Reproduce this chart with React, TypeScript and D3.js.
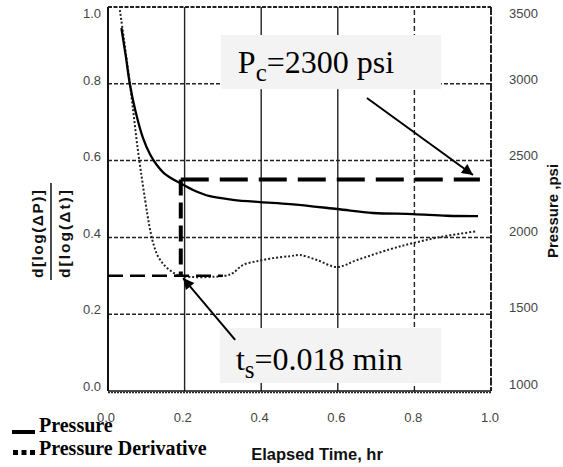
import React from 'react';
import * as d3 from 'd3';

// ---------- data ----------
const X_TICKS = [0, 0.2, 0.4, 0.6, 0.8, 1.0];
const LEFT_TICKS = [0, 0.2, 0.4, 0.6, 0.8, 1.0];
const RIGHT_TICKS = [1000, 1500, 2000, 2500, 3000, 3500];
const SOLID_GRID_X = [0.2, 0.4, 0.6];
const DASHED_GRID_X = [0.8];
const GRID_Y = [0.2, 0.4, 0.6, 0.8];

// Pressure curve (elapsed time hr, psi on right axis)
const PRESSURE_T = [0.035, 0.047, 0.057, 0.072, 0.091, 0.110, 0.128, 0.150, 0.188, 0.222, 0.266, 0.326, 0.397, 0.475, 0.598, 0.692, 0.796, 0.885, 0.966];
const PRESSURE_PSI = [3363, 3170, 2999, 2820, 2650, 2540, 2470, 2410, 2354, 2309, 2268, 2245, 2230, 2217, 2185, 2159, 2152, 2141, 2139];

// Pressure derivative curve (left axis)
const DERIV_T = [0.031, 0.057, 0.078, 0.097, 0.108, 0.118, 0.130, 0.145, 0.165, 0.188, 0.305, 0.326, 0.352, 0.389, 0.431, 0.475, 0.501, 0.546, 0.598, 0.650, 0.736, 0.796, 0.867, 0.963];
const DERIV_V = [0.992, 0.802, 0.628, 0.497, 0.430, 0.385, 0.352, 0.330, 0.312, 0.300, 0.300, 0.307, 0.328, 0.338, 0.346, 0.351, 0.354, 0.341, 0.323, 0.341, 0.369, 0.385, 0.401, 0.416];

// Annotation guide lines
const PC_LEVEL = 0.551;
const PC_LINE_END = 0.971;
const TS_TIME = 0.19;
const TS_LEVEL = 0.30;
const TS_LINE_END = 0.30;

const PC_LABEL = { main: 'P', sub: 'c', rest: '=2300 psi' };
const TS_LABEL = { main: 't', sub: 's', rest: '=0.018 min' };

const W = 563;
const H = 467;

export default function App() {
  const x = d3.scaleLinear().domain([0, 1]).range([108, 491]);
  const yL = d3.scaleLinear().domain([0, 1]).range([391, 7]);
  const yR = d3.scaleLinear().domain([1000, 3500]).range([391, 7]);
  const xLab = d3.scaleLinear().domain([0, 1]).range([106, 490]);
  const yLab = d3.scaleLinear().domain([0, 0.8, 1]).range([386, 80, 13]);
  const yRLab = d3.scaleLinear().domain([1000, 3000, 3500]).range([384, 79, 13]);

  const pressureLine = d3
    .line<number>()
    .x((_, i) => x(PRESSURE_T[i]))
    .y((d) => yR(d))
    .curve(d3.curveCatmullRom.alpha(0.5));
  const derivLine = d3
    .line<number>()
    .x((_, i) => x(DERIV_T[i]))
    .y((d) => yL(d))
    .curve(d3.curveCatmullRom.alpha(0.5));

  const sans = '"Liberation Sans", Arial, Helvetica, sans-serif';
  const serif = '"Liberation Serif", "Times New Roman", Times, serif';

  const [x0, x1] = x.range();
  const [yb, yt] = yL.range();

  const arrows = [
    { from: [0.676, 0.763], to: [0.953, 0.5625] },
    { from: [0.332, 0.133], to: [0.196, 0.294] },
  ];
  const boxes = [
    { x0: 0.295, x1: 0.87, y0: 0.786, y1: 0.927, tx: 0.339, ty: 0.828, label: PC_LABEL },
    { x0: 0.292, x1: 0.87, y0: 0.021, y1: 0.164, tx: 0.334, ty: 0.0547, label: TS_LABEL },
  ];

  return (
    <svg width={W} height={H} style={{ position: 'absolute', left: 0, top: 0, background: '#fff' }}>
      <defs>
        <marker id="ah" viewBox="0 0 10 10" refX="10" refY="5" markerWidth="17" markerHeight="11" markerUnits="userSpaceOnUse" orient="auto">
          <path d="M0,0 L10,5 L0,10 z" fill="#000" />
        </marker>
      </defs>
      <rect x={0} y={0} width={W} height={H} fill="#fff" />

      {/* grid */}
      {GRID_Y.map((v) => (
        <line key={'gy' + v} x1={x0} x2={x1} y1={yL(v)} y2={yL(v)} stroke="#222" strokeWidth={1.5} strokeDasharray="4 2" />
      ))}
      {SOLID_GRID_X.map((v) => (
        <line key={'gxs' + v} x1={x(v)} x2={x(v)} y1={yb} y2={yt} stroke="#222" strokeWidth={1.4} />
      ))}
      {DASHED_GRID_X.map((v) => (
        <line key={'gxd' + v} x1={x(v)} x2={x(v)} y1={yb} y2={yt} stroke="#222" strokeWidth={1.4} strokeDasharray="5 3" />
      ))}

      {/* frame */}
      <line x1={x0} x2={x0} y1={yb} y2={yt} stroke="#111" strokeWidth={2} />
      <line x1={x0} x2={x1} y1={yt} y2={yt} stroke="#222" strokeWidth={2} strokeDasharray="4 1.5" />
      <line x1={x1} x2={x1} y1={yt} y2={yb} stroke="#222" strokeWidth={2} strokeDasharray="8 1.5" />
      <line x1={x0} x2={x1} y1={yb} y2={yb} stroke="#111" strokeWidth={1.5} />
      <line x1={x0} x2={x1} y1={yb + 1.5} y2={yb + 1.5} stroke="#222" strokeWidth={1.5} strokeDasharray="2 1" />

      {/* annotation boxes */}
      {boxes.map((b, i) => (
        <rect key={'box' + i} x={x(b.x0)} y={yL(b.y1)} width={x(b.x1) - x(b.x0)} height={yL(b.y0) - yL(b.y1)} fill="#f3f3f3" />
      ))}

      {/* curves */}
      <path d={derivLine(DERIV_V) || ''} fill="none" stroke="#222" strokeWidth={2} strokeDasharray="2 2" />
      <path d={pressureLine(PRESSURE_PSI) || ''} fill="none" stroke="#000" strokeWidth={2.3} />

      {/* guide dashed lines */}
      <line x1={x(TS_TIME)} x2={x(PC_LINE_END)} y1={yL(PC_LEVEL)} y2={yL(PC_LEVEL)} stroke="#000" strokeWidth={4} strokeDasharray="28 11" />
      <line x1={x(TS_TIME)} x2={x(TS_TIME)} y1={yL(PC_LEVEL)} y2={yL(TS_LEVEL)} stroke="#000" strokeWidth={4} strokeDasharray="16 7" />
      <line x1={x(0)} x2={x(TS_LINE_END)} y1={yL(TS_LEVEL)} y2={yL(TS_LEVEL)} stroke="#000" strokeWidth={2.5} strokeDasharray="15 7" />

      {/* arrows */}
      {arrows.map((a, i) => (
        <line key={'ar' + i} x1={x(a.from[0])} y1={yL(a.from[1])} x2={x(a.to[0])} y2={yL(a.to[1])} stroke="#000" strokeWidth={2} markerEnd="url(#ah)" />
      ))}

      {/* annotation texts */}
      {boxes.map((b, i) => (
        <text key={'bt' + i} x={x(b.tx)} y={yL(b.ty)} fontFamily={serif} fontSize={32} fill="#000">
          {b.label.main}
          <tspan dy={8} fontSize={25}>{b.label.sub}</tspan>
          <tspan dy={-8}>{b.label.rest}</tspan>
        </text>
      ))}

      {/* tick labels */}
      {X_TICKS.map((v) => (
        <text key={'xt' + v} x={xLab(v)} y={422} textAnchor="middle" fontFamily={sans} fontSize={13} fill="#444">
          {v.toFixed(1)}
        </text>
      ))}
      {LEFT_TICKS.map((v) => (
        <text key={'lt' + v} x={101} y={yLab(v)} dominantBaseline="central" textAnchor="end" fontFamily={sans} fontSize={13} fill="#444">
          {v.toFixed(1)}
        </text>
      ))}
      {RIGHT_TICKS.map((v) => (
        <text key={'rt' + v} x={509} y={yRLab(v)} dominantBaseline="central" textAnchor="start" fontFamily={sans} fontSize={13} fill="#444">
          {v}
        </text>
      ))}

      {/* axis titles */}
      <text x={317} y={460} textAnchor="middle" fontFamily={sans} fontWeight="bold" fontSize={16.5} fill="#111">
        Elapsed Time, hr
      </text>
      <text transform="translate(558,211) rotate(-90)" textAnchor="middle" fontFamily={sans} fontWeight="bold" fontSize={15} fill="#111">
        Pressure ,psi
      </text>
      <text transform="translate(43,234) rotate(-90)" textAnchor="middle" fontFamily={sans} fontWeight="bold" fontSize={15.5} fill="#111" textLength={88} lengthAdjust="spacing">
        d[log(ΔP)]
      </text>
      <line x1={51} x2={51} y1={183} y2={280} stroke="#111" strokeWidth={1.5} />
      <text transform="translate(70,234) rotate(-90)" textAnchor="middle" fontFamily={sans} fontWeight="bold" fontSize={15.5} fill="#111" textLength={88} lengthAdjust="spacing">
        d[log(Δt)]
      </text>

      {/* legend */}
      <rect x={12} y={430} width={23} height={4} fill="#000" />
      <text x={39} y={432} fontFamily={serif} fontWeight="bold" fontSize={20} fill="#000">Pressure</text>
      {[0, 1, 2].map((i) => (
        <rect key={'ld' + i} x={13 + i * 8.5} y={450} width={5} height={5} fill="#000" />
      ))}
      <text x={39} y={455} fontFamily={serif} fontWeight="bold" fontSize={20} fill="#000">Pressure Derivative</text>
    </svg>
  );
}
